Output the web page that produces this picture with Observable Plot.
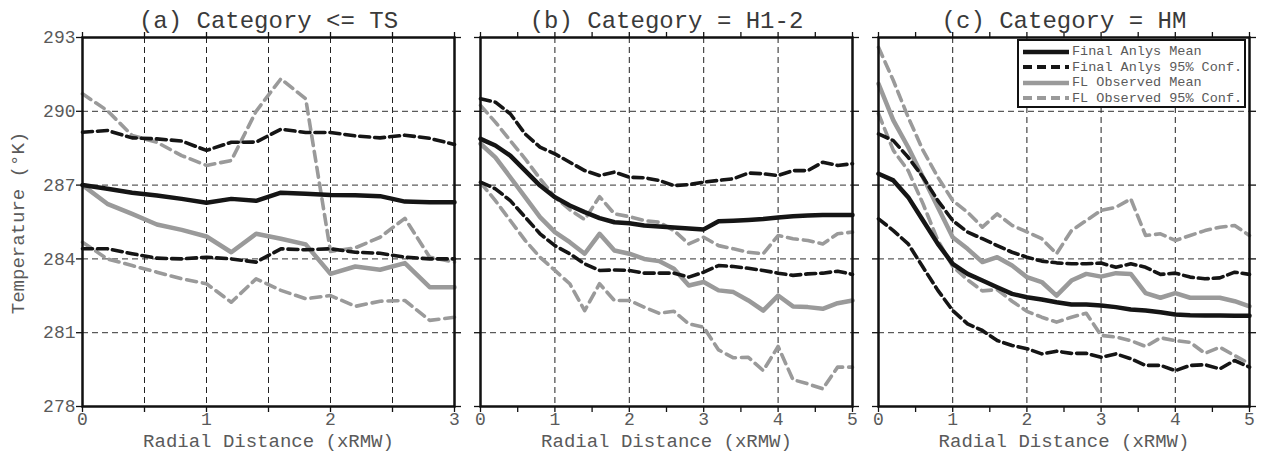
<!DOCTYPE html>
<html>
<head>
<meta charset="utf-8">
<script src="https://cdn.jsdelivr.net/npm/d3@7"></script>
<script src="https://cdn.jsdelivr.net/npm/@observablehq/plot@0.6"></script>
<style>
  html, body { margin: 0; padding: 0; background: #fff; }
  #wrap { position: relative; width: 1263px; height: 452px; overflow: hidden; }
  .pnl { position: absolute; top: 0; }
  .pnl svg { overflow: visible; }
  #legend { position: absolute; left: 1017px; top: 39px; width: 225px; height: 65px;
    border: 2px solid #111; background: #fff; padding: 0; box-sizing: content-box;
    font-family: 'Liberation Mono', 'Courier New', monospace; font-size: 13.5px; color: #5a5a5a; }
  .lg { position: absolute; left: 4px; height: 15px; display: flex; align-items: center; white-space: pre; }
  .lg svg { margin-right: 3px; }
</style>
</head>
<body>
<div id="wrap"></div>
<script>
// ---------------- data ----------------
const panelTitles = ["(a) Category <= TS", "(b) Category = H1-2", "(c) Category = HM"];
const xLabel = "Radial Distance (xRMW)";
const yLabel = "Temperature (°K)";
const seriesNames = ["Final Anlys Mean", "Final Anlys 95% Conf.", "FL Observed Mean", "FL Observed 95% Conf."];
const yTicks = [278, 281, 284, 287, 290, 293];

// Panel (a): radial distance 0..3 RMW
const xA = [0, 0.2, 0.4, 0.6, 0.8, 1.0, 1.2, 1.4, 1.6, 1.8, 2.0, 2.2, 2.4, 2.6, 2.8, 3.0];
const aFinalMean = [287.0, 286.85, 286.69, 286.58, 286.44, 286.28, 286.44, 286.36, 286.69, 286.65, 286.6, 286.59, 286.55, 286.33, 286.3, 286.3];
const aFinalUp   = [289.15, 289.22, 288.92, 288.88, 288.79, 288.41, 288.74, 288.75, 289.27, 289.14, 289.14, 289.0, 288.92, 289.03, 288.9, 288.65];
const aFinalLo   = [284.41, 284.41, 284.21, 284.03, 284.0, 284.07, 284.0, 283.87, 284.41, 284.37, 284.41, 284.27, 284.23, 284.07, 284.0, 284.0];
const aObsMean   = [287.0, 286.24, 285.83, 285.4, 285.18, 284.91, 284.27, 285.02, 284.82, 284.59, 283.39, 283.69, 283.56, 283.83, 282.85, 282.85];
const aObsUp     = [290.71, 290.03, 289.02, 288.74, 288.2, 287.8, 288.0, 290.0, 291.32, 290.51, 284.3, 284.45, 284.88, 285.65, 284.07, 283.87];
const aObsLo     = [284.68, 284.0, 283.73, 283.46, 283.19, 282.99, 282.24, 283.19, 282.72, 282.38, 282.51, 282.07, 282.28, 282.31, 281.5, 281.63];

// Panels (b), (c): radial distance 0..5 RMW
const xBC = [0, 0.2, 0.4, 0.6, 0.8, 1.0, 1.2, 1.4, 1.6, 1.8, 2.0, 2.2, 2.4, 2.6, 2.8, 3.0, 3.2, 3.4, 3.6, 3.8, 4.0, 4.2, 4.4, 4.6, 4.8, 5.0];
const bFinalMean = [288.88, 288.61, 288.2, 287.59, 286.98, 286.51, 286.17, 285.9, 285.66, 285.49, 285.45, 285.36, 285.32, 285.28, 285.24, 285.2, 285.53, 285.55, 285.58, 285.62, 285.68, 285.73, 285.76, 285.78, 285.78, 285.78];
const bFinalUp   = [290.51, 290.37, 289.9, 289.08, 288.54, 288.27, 287.93, 287.59, 287.39, 287.53, 287.32, 287.3, 287.19, 286.98, 287.02, 287.12, 287.19, 287.26, 287.49, 287.46, 287.39, 287.59, 287.59, 287.93, 287.8, 287.87];
const bFinalLo   = [287.12, 286.85, 286.37, 285.7, 285.02, 284.54, 284.21, 283.8, 283.53, 283.55, 283.53, 283.42, 283.42, 283.42, 283.26, 283.46, 283.73, 283.69, 283.62, 283.53, 283.42, 283.33, 283.39, 283.42, 283.5, 283.37];
const bObsMean   = [288.68, 288.13, 287.32, 286.51, 285.7, 285.09, 284.68, 284.21, 285.02, 284.34, 284.21, 284.0, 283.91, 283.6, 282.92, 283.06, 282.72, 282.65, 282.31, 281.9, 282.51, 282.07, 282.04, 281.97, 282.2, 282.31];
const bObsUp     = [290.24, 289.56, 288.81, 288.07, 287.26, 286.51, 286.0, 285.6, 286.53, 285.83, 285.72, 285.56, 285.49, 285.15, 284.61, 284.88, 284.54, 284.41, 284.27, 284.21, 284.95, 284.82, 284.75, 284.61, 285.02, 285.09];
const bObsLo     = [287.1, 286.37, 285.56, 284.75, 284.07, 283.53, 282.99, 281.9, 282.99, 282.31, 282.31, 282.04, 281.79, 281.87, 281.36, 281.22, 280.3, 279.98, 280.0, 279.46, 280.44, 279.09, 278.92, 278.72, 279.6, 279.6];

const cFinalMean = [287.46, 287.19, 286.51, 285.56, 284.61, 283.8, 283.39, 283.12, 282.85, 282.58, 282.44, 282.35, 282.24, 282.15, 282.15, 282.11, 282.04, 281.94, 281.9, 281.83, 281.74, 281.71, 281.7, 281.7, 281.69, 281.69];
const cFinalUp   = [289.08, 288.81, 288.13, 287.32, 286.37, 285.56, 285.09, 284.82, 284.54, 284.27, 284.07, 283.91, 283.84, 283.8, 283.8, 283.83, 283.66, 283.8, 283.66, 283.37, 283.42, 283.26, 283.19, 283.23, 283.46, 283.37];
const cFinalLo   = [285.63, 285.15, 284.61, 283.66, 282.72, 281.9, 281.36, 281.09, 280.68, 280.48, 280.35, 280.14, 280.25, 280.16, 280.16, 280.0, 280.14, 279.94, 279.67, 279.67, 279.46, 279.67, 279.7, 279.53, 279.87, 279.6];
const cObsMean   = [291.12, 289.63, 288.54, 287.32, 286.1, 284.88, 284.41, 283.87, 284.07, 283.73, 283.26, 283.06, 282.51, 283.12, 283.39, 283.28, 283.42, 283.39, 282.61, 282.42, 282.61, 282.42, 282.42, 282.42, 282.28, 282.07];
const cObsUp     = [292.6, 291.25, 289.76, 288.41, 287.32, 286.37, 285.9, 285.29, 285.83, 285.36, 285.1, 284.82, 284.21, 285.15, 285.56, 285.97, 286.1, 286.44, 284.95, 285.02, 284.75, 284.95, 285.15, 285.29, 285.36, 284.95];
const cObsLo     = [289.9, 288.41, 287.59, 286.24, 284.75, 283.7, 283.15, 282.7, 282.75, 282.28, 281.87, 281.63, 281.43, 281.63, 281.79, 280.89, 280.82, 280.68, 280.44, 280.79, 280.68, 280.61, 280.16, 280.41, 280.07, 279.74];

const xTicksA = [0, 0.5, 1, 1.5, 2, 2.5, 3];
const xTicksBC = [0, 0.5, 1, 1.5, 2, 2.5, 3, 3.5, 4, 4.5, 5];
const xGridA = [0.5, 1, 1.5, 2, 2.5];
const xGridBC = [1, 2, 3, 4];
const yGrid = [281, 284, 287, 290];

// ---------------- styles ----------------
const FONT = "'Liberation Mono', 'Courier New', monospace";
const BLACK = "#151515", GREY = "#9a9a9a";
const styles = [
  {stroke: BLACK, strokeWidth: 4.5},
  {stroke: BLACK, strokeWidth: 3.6, strokeDasharray: "10,5"},
  {stroke: GREY, strokeWidth: 4.5},
  {stroke: GREY, strokeWidth: 3.6, strokeDasharray: "10,6"}
];

function panel({xs, fm, fu, fl, om, ou, ol, xmax, xTicks, xGrid, title, showY, width, ml, mr}) {
  const line = (vals, s) => Plot.line(vals, {x: xs, y: vals, ...s, strokeLinejoin: "round"});
  const marks = [
    Plot.gridX(xGrid, {stroke: "#222", strokeOpacity: 1, strokeWidth: 1, strokeDasharray: "6,4"}),
    Plot.gridY(yGrid, {stroke: "#333", strokeOpacity: 1, strokeWidth: 1, strokeDasharray: "6,4"}),
    line(ou, styles[3]), line(ol, styles[3]), line(om, styles[2]),
    line(fu, styles[1]), line(fl, styles[1]), line(fm, styles[0]),
    Plot.frame({stroke: "#111", strokeWidth: 2.5}),
    Plot.axisY(yTicks, {anchor: "left", tickSize: 6, tickPadding: 1, strokeWidth: 1.3, stroke: "#111",
      tickFormat: showY ? d => String(d) : () => "", label: null}),
    Plot.axisY(yTicks, {anchor: "right", tickSize: 6, strokeWidth: 1.3, stroke: "#111", tickFormat: () => "", label: null}),
    Plot.axisX(xTicks, {anchor: "bottom", tickSize: 6, tickPadding: 0, strokeWidth: 1.3, stroke: "#111",
      tickFormat: d => Number.isInteger(d) ? String(d) : "", label: null}),
    Plot.axisX(xTicks, {anchor: "top", tickSize: 6, strokeWidth: 1.3, stroke: "#111", tickFormat: () => "", label: null}),
    Plot.text([title], {text: d => d, frameAnchor: "top", dy: -10, lineAnchor: "bottom", fontSize: 24, fill: "#3a3a3a"}),
    Plot.text([xLabel], {text: d => d, frameAnchor: "bottom", dy: 40, lineAnchor: "bottom", fontSize: 19, fill: "#5a5a5a"})
  ];
  if (showY) {
    marks.push(Plot.text([yLabel], {text: d => d, frameAnchor: "left", dx: -65, dy: 1, rotate: -90,
      textAnchor: "middle", lineAnchor: "middle", fontSize: 19, fill: "#5a5a5a"}));
  }
  return Plot.plot({
    width, height: 452, marginTop: 37, marginBottom: 46, marginLeft: ml, marginRight: mr,
    style: {fontFamily: FONT, fontSize: "18px", color: "#5a5a5a", background: "transparent", overflow: "visible"},
    x: {domain: [0, xmax]},
    y: {domain: [278, 293]},
    marks
  });
}

const wrap = document.getElementById("wrap");
const specs = [
  {left: 0, width: 468, ml: 82, mr: 14, xs: xA, fm: aFinalMean, fu: aFinalUp, fl: aFinalLo, om: aObsMean, ou: aObsUp, ol: aObsLo,
   xmax: 3, xTicks: xTicksA, xGrid: xGridA, title: panelTitles[0], showY: true},
  {left: 468, width: 398, ml: 12, mr: 14, xs: xBC, fm: bFinalMean, fu: bFinalUp, fl: bFinalLo, om: bObsMean, ou: bObsUp, ol: bObsLo,
   xmax: 5, xTicks: xTicksBC, xGrid: xGridBC, title: panelTitles[1], showY: false},
  {left: 866, width: 397, ml: 12, mr: 14, xs: xBC, fm: cFinalMean, fu: cFinalUp, fl: cFinalLo, om: cObsMean, ou: cObsUp, ol: cObsLo,
   xmax: 5, xTicks: xTicksBC, xGrid: xGridBC, title: panelTitles[2], showY: false}
];
for (const s of specs) {
  const d = document.createElement("div");
  d.className = "pnl";
  d.style.left = s.left + "px";
  d.appendChild(panel(s));
  wrap.appendChild(d);
}

// legend (inside panel c)
const lg = document.createElement("div");
lg.id = "legend";
seriesNames.forEach((name, i) => {
  const row = document.createElement("div");
  row.className = "lg";
  row.style.top = (3 + i * 15.5) + "px";
  const st = styles[i];
  const dash = st.strokeDasharray ? ` stroke-dasharray="9,5"` : "";
  row.innerHTML = `<svg width="46" height="10"><line x1="0" y1="5" x2="46" y2="5" stroke="${st.stroke}" stroke-width="${i % 2 ? 4 : 4.5}"${dash}/></svg>${name}`;
  lg.appendChild(row);
});
wrap.appendChild(lg);
</script>
</body>
</html>
